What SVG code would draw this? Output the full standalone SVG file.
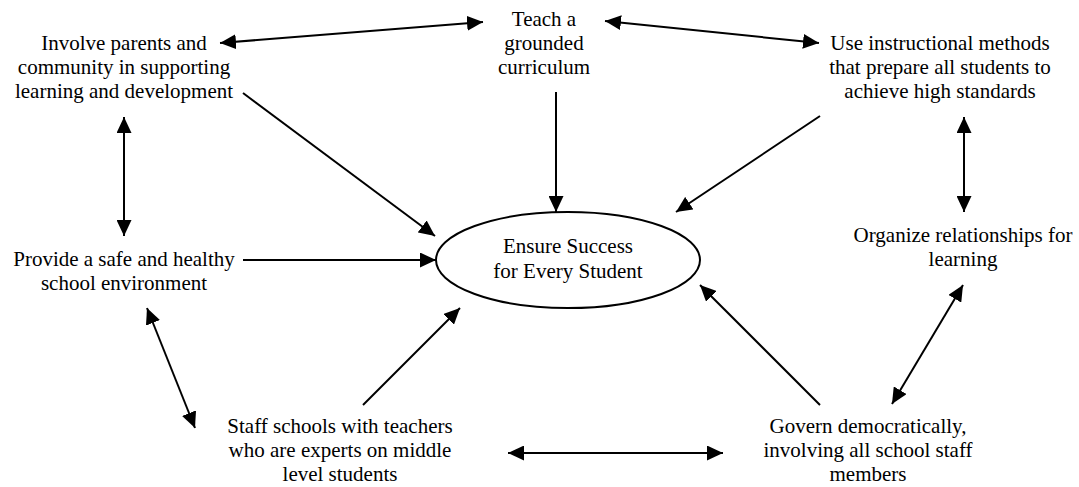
<svg xmlns="http://www.w3.org/2000/svg" width="1079" height="487" viewBox="0 0 1079 487">
<style>
.t text{fill:#000;text-anchor:middle}
.c line{stroke:#000;stroke-width:2;fill:none}
.one{marker-end:url(#ah)}
.two{marker-end:url(#ah);marker-start:url(#ah)}
</style>
<defs>
<marker id="ah" markerUnits="userSpaceOnUse" markerWidth="16" markerHeight="15" refX="16" refY="7.5" orient="auto-start-reverse" viewBox="0 0 16 15">
<path d="M0,0 L16,7.5 L0,15 z" fill="#000"/>
</marker>
</defs>
<rect width="1079" height="487" fill="#fff"/>
<g class="t" font-family="Liberation Serif, Times New Roman, serif" font-size="21" text-anchor="middle">
<g id="involve"><text x="124" y="50">Involve parents and</text><text x="124" y="74">community in supporting</text><text x="124" y="98">learning and development</text></g>
<g id="teach"><text x="544" y="26">Teach a</text><text x="544" y="50">grounded</text><text x="544" y="74">curriculum</text></g>
<g id="use"><text x="940" y="50">Use instructional methods</text><text x="940" y="74">that prepare all students to</text><text x="940" y="98">achieve high standards</text></g>
<g id="provide"><text x="124" y="266">Provide a safe and healthy</text><text x="124" y="290">school environment</text></g>
<g id="ensure"><ellipse cx="568" cy="260" rx="132" ry="48" fill="none" stroke="#000" stroke-width="2"/><text x="568" y="253">Ensure Success</text><text x="568" y="278">for Every Student</text></g>
<g id="organize"><text x="963" y="242">Organize relationships for</text><text x="963" y="266">learning</text></g>
<g id="staff"><text x="340" y="433">Staff schools with teachers</text><text x="340" y="457">who are experts on middle</text><text x="340" y="481">level students</text></g>
<g id="govern"><text x="868" y="433">Govern democratically,</text><text x="868" y="457">involving all school staff</text><text x="868" y="481">members</text></g>
</g>
<g id="connectors" class="c">
<line class="two" x1="220" y1="43" x2="483" y2="22"/>
<line class="two" x1="605" y1="21" x2="819" y2="43"/>
<line class="one" x1="243" y1="93" x2="435" y2="236"/>
<line class="one" x1="556" y1="92" x2="556" y2="212"/>
<line class="one" x1="820" y1="116" x2="676" y2="212"/>
<line class="two" x1="124" y1="117" x2="124" y2="236"/>
<line class="one" x1="243" y1="260" x2="436" y2="260"/>
<line class="two" x1="147" y1="308" x2="195" y2="428"/>
<line class="one" x1="363" y1="405" x2="460" y2="308"/>
<line class="two" x1="508" y1="453" x2="723" y2="453"/>
<line class="one" x1="820" y1="405" x2="700" y2="285"/>
<line class="two" x1="963" y1="285" x2="892" y2="404"/>
<line class="two" x1="964" y1="117" x2="964" y2="212"/>
</g>
</svg>
